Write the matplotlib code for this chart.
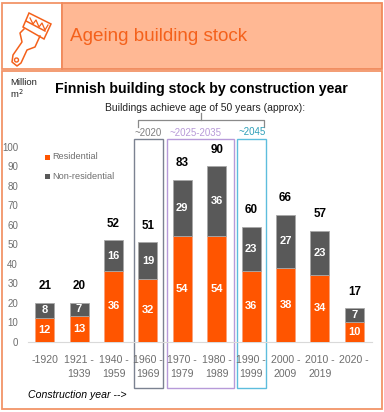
import matplotlib
matplotlib.use('Agg')
import matplotlib.pyplot as plt
from matplotlib.patches import Rectangle, Polygon, Circle

plt.rcParams['font.family'] = ['Liberation Sans', 'DejaVu Sans']

W, H = 384, 412

periods = ['-1920', '1921 -\n1939', '1940 -\n1959', '1960 -\n1969', '1970 -\n1979',
           '1980 -\n1989', '1990 -\n1999', '2000 -\n2009', '2010 -\n2019', '2020 -']
residential = [12, 13, 36, 32, 54, 54, 36, 38, 34, 10]
non_residential = [8, 7, 16, 19, 29, 36, 23, 27, 23, 7]
totals = [21, 20, 52, 51, 83, 90, 60, 66, 57, 17]
y_ticks = [0, 10, 20, 30, 40, 50, 60, 70, 80, 90, 100]

ORANGE = '#FF5500'
GREY = '#595959'
TICK = '#6e6e6e'


def px_axes(fig, left, top, right, bottom):
    return fig.add_axes([left / W, 1 - bottom / H, (right - left) / W, (bottom - top) / H])


fig = plt.figure(figsize=(W / 100, H / 100), dpi=100, facecolor='white')

# page furniture in pixel coordinates
bg = fig.add_axes([0, 0, 1, 1])
bg.set_xlim(0, W)
bg.set_ylim(H, 0)
bg.axis('off')
bg.add_patch(Rectangle((1.5, 70.5), 380.5, 338.5, fc='white', ec='#F29468', lw=1.3))
bg.add_patch(Rectangle((1.5, 2.5), 60, 66, fc='white', ec='#F29468', lw=1.3))
bg.add_patch(Rectangle((61.5, 2.5), 320.5, 66, fc='#FFB894', ec='#F08A5C', lw=1.3))
bg.text(70, 36, 'Ageing building stock', color='#F4611B', fontsize=13.6, va='center', ha='left')

# paintbrush icon
bg.add_patch(Polygon([(29, 13), (51, 24), (44, 39), (23, 27)], closed=True, fc='none', ec='#F4611B', lw=1.1))
bg.plot([26, 45], [21, 31], color='#F4611B', lw=1.1)
bg.plot([30, 33, 36, 39, 42, 45, 48], [18, 24, 20, 27, 23, 30, 25], color='#F4611B', lw=0.9)
bg.plot([24, 20, 22, 13, 12, 17, 21, 27, 35, 40], [29, 33, 42, 55, 62, 66, 63, 50, 47, 36],
        color='#F4611B', lw=1.1)
bg.add_patch(Circle((16.5, 60), 2, fc='none', ec='#F4611B', lw=1))

bg.text(10, 82, 'Million', fontsize=6.8, color='#222222', va='center')
bg.text(10, 94, 'm$^2$', fontsize=6.8, color='#222222', va='center')
bg.text(201.5, 89, 'Finnish building stock by construction year', fontsize=10.2,
        fontweight='bold', color='black', ha='center', va='center')
bg.text(205, 108, 'Buildings achieve age of 50 years (approx):', fontsize=7.5,
        color='#222222', ha='center', va='center')

# bracket
bg.plot([138, 138, 264, 264], [127, 120, 120, 127], color='#8a8a8a', lw=0.9)
bg.plot([201, 201], [120, 113], color='#8a8a8a', lw=0.9)

bg.text(148, 133, '~2020', fontsize=7, color='#7f7f7f', ha='center', va='center')
bg.text(196, 133, '~2025-2035', fontsize=7, color='#B89AD8', ha='center', va='center')
bg.text(252, 132, '~2045', fontsize=7, color='#2E9FB8', ha='center', va='center')

bg.add_patch(Rectangle((133.5, 139), 29, 249, fc='none', ec='#7b8291', lw=1))
bg.add_patch(Rectangle((166.5, 139), 67.5, 249, fc='none', ec='#B79AD9', lw=1))
bg.add_patch(Rectangle((236.5, 139), 29.5, 249, fc='none', ec='#5DBDDD', lw=1))

bg.text(28, 395, 'Construction year -->', fontsize=7.6, style='italic', color='black',
        ha='left', va='center')

# chart
ax = px_axes(fig, 27.5, 147, 371.5, 341.5)
ax.patch.set_alpha(0)
x = list(range(len(periods)))
bar_w = 0.55
ax.bar(x, residential, width=bar_w, color=ORANGE, edgecolor='#F9A27C', linewidth=0.6, zorder=3)
ax.bar(x, non_residential, width=bar_w, bottom=residential, color=GREY, edgecolor='#a8a8a8',
       linewidth=0.6, zorder=3)

for i in x:
    ax.text(i, residential[i] / 2, str(residential[i]), color='white', fontsize=8,
            fontweight='bold', ha='center', va='center', zorder=4)
    ax.text(i, residential[i] + non_residential[i] / 2, str(non_residential[i]), color='white',
            fontsize=8, fontweight='bold', ha='center', va='center', zorder=4)
    ax.text(i, residential[i] + non_residential[i] + 8.6, str(totals[i]), color='black',
            fontsize=8.4, fontweight='bold', ha='center', va='center', zorder=4)

ax.set_xlim(-0.5, len(periods) - 0.5)
ax.set_ylim(0, 100)
ax.set_yticks(y_ticks)
ax.set_xticks(x)
ax.set_xticklabels(periods, fontsize=7.6, color=TICK, linespacing=1.6)
ax.tick_params(axis='y', length=0, labelsize=7, labelcolor=TICK, pad=6.8)
ax.tick_params(axis='x', length=0, pad=9.5)
for s in ['top', 'right', 'left']:
    ax.spines[s].set_visible(False)
ax.spines['bottom'].set_color('#d9d9d9')
ax.spines['bottom'].set_linewidth(0.8)

# legend by hand, position matches the source
bg.add_patch(Rectangle((45, 155), 4.5, 4.5, fc=ORANGE, ec='none'))
bg.text(52.5, 156.5, 'Residential', fontsize=6.6, color=TICK, va='center')
bg.add_patch(Rectangle((45, 174), 4.5, 4.5, fc=GREY, ec='none'))
bg.text(52.5, 176, 'Non-residential', fontsize=6.6, color=TICK, va='center')

fig.savefig('out.png', dpi=100, facecolor='white')
